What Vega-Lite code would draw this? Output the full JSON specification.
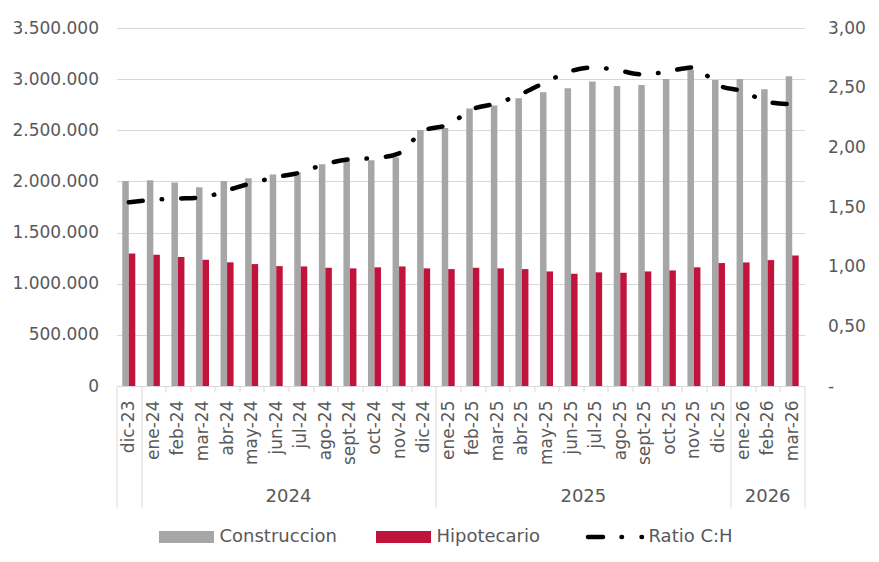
{
  "$schema": "https://vega.github.io/schema/vega-lite/v6.json",
  "width": 688,
  "height": 358,
  "autosize": {"type": "none"},
  "padding": {"left": 116.5, "top": 28, "right": 74.5, "bottom": 176},
  "background": "#ffffff",
  "config": {
    "locale": {"number": {"decimal": ",", "thousands": ".", "grouping": [3], "currency": ["", ""]}},
    "view": {"stroke": null},
    "font": "DejaVu Sans",
    "axis": {"labelFont": "DejaVu Sans", "labelColor": "#595959", "labelFontSize": 17}
  },
  "data": {
    "values": [
      {"mes": "dic-23", "Construccion": 2003000, "Hipotecario": 1296000, "ratio": 1.54},
      {"mes": "ene-24", "Construccion": 2012000, "Hipotecario": 1283000, "ratio": 1.56},
      {"mes": "feb-24", "Construccion": 1990000, "Hipotecario": 1260000, "ratio": 1.57},
      {"mes": "mar-24", "Construccion": 1944000, "Hipotecario": 1234000, "ratio": 1.58},
      {"mes": "abr-24", "Construccion": 2003000, "Hipotecario": 1209000, "ratio": 1.64},
      {"mes": "may-24", "Construccion": 2032000, "Hipotecario": 1192000, "ratio": 1.70},
      {"mes": "jun-24", "Construccion": 2068000, "Hipotecario": 1172000, "ratio": 1.75},
      {"mes": "jul-24", "Construccion": 2090000, "Hipotecario": 1169000, "ratio": 1.79},
      {"mes": "ago-24", "Construccion": 2169000, "Hipotecario": 1156000, "ratio": 1.86},
      {"mes": "sept-24", "Construccion": 2201000, "Hipotecario": 1150000, "ratio": 1.90},
      {"mes": "oct-24", "Construccion": 2208000, "Hipotecario": 1160000, "ratio": 1.91},
      {"mes": "nov-24", "Construccion": 2237000, "Hipotecario": 1169000, "ratio": 1.95},
      {"mes": "dic-24", "Construccion": 2504000, "Hipotecario": 1150000, "ratio": 2.14},
      {"mes": "ene-25", "Construccion": 2523000, "Hipotecario": 1143000, "ratio": 2.19},
      {"mes": "feb-25", "Construccion": 2713000, "Hipotecario": 1156000, "ratio": 2.32},
      {"mes": "mar-25", "Construccion": 2742000, "Hipotecario": 1150000, "ratio": 2.37},
      {"mes": "abr-25", "Construccion": 2813000, "Hipotecario": 1143000, "ratio": 2.45},
      {"mes": "may-25", "Construccion": 2872000, "Hipotecario": 1120000, "ratio": 2.55},
      {"mes": "jun-25", "Construccion": 2911000, "Hipotecario": 1097000, "ratio": 2.64},
      {"mes": "jul-25", "Construccion": 2976000, "Hipotecario": 1111000, "ratio": 2.67},
      {"mes": "ago-25", "Construccion": 2933000, "Hipotecario": 1107000, "ratio": 2.64},
      {"mes": "sept-25", "Construccion": 2943000, "Hipotecario": 1120000, "ratio": 2.61},
      {"mes": "oct-25", "Construccion": 3002000, "Hipotecario": 1130000, "ratio": 2.64},
      {"mes": "nov-25", "Construccion": 3094000, "Hipotecario": 1160000, "ratio": 2.67},
      {"mes": "dic-25", "Construccion": 2992000, "Hipotecario": 1202000, "ratio": 2.52},
      {"mes": "ene-26", "Construccion": 3002000, "Hipotecario": 1208000, "ratio": 2.47},
      {"mes": "feb-26", "Construccion": 2901000, "Hipotecario": 1231000, "ratio": 2.38},
      {"mes": "mar-26", "Construccion": 3028000, "Hipotecario": 1276000, "ratio": 2.36}
    ]
  },
  "layer": [
    {
      "transform": [{"fold": ["Construccion", "Hipotecario"], "as": ["serie", "valor"]}],
      "mark": {"type": "bar"},
      "encoding": {
        "x": {
          "field": "mes",
          "type": "nominal",
          "sort": null,
          "scale": {"paddingInner": 0, "paddingOuter": 0},
          "axis": {
            "title": null,
            "labelAngle": 270,
            "labelAlign": "right",
            "labelBaseline": "middle",
            "labelPadding": {"condition": {"test": "indexof(['dic-23','dic-24','dic-25','mar-26'], datum.value) >= 0", "value": -108}, "value": 8},
            "tickBand": "extent",
            "tickColor": "#D9D9D9",
            "tickSize": {"condition": {"test": "indexof(['dic-23','dic-24','dic-25','mar-26'], datum.value) >= 0 || !!datum.extra", "value": 122}, "value": 6},
            "domainColor": "#D9D9D9",
            "grid": false
          }
        },
        "xOffset": {"field": "serie", "type": "nominal", "sort": ["Construccion", "Hipotecario"], "scale": {"paddingInner": 0, "paddingOuter": 0.89}},
        "y": {
          "field": "valor",
          "type": "quantitative",
          "scale": {"domain": [0, 3500000], "nice": false},
          "axis": {
            "title": null,
            "values": [0, 500000, 1000000, 1500000, 2000000, 2500000, 3000000, 3500000],
            "format": ",d",
            "domain": false,
            "ticks": false,
            "labelPadding": 18,
            "grid": true,
            "gridColor": "#D9D9D9",
            "gridWidth": 1
          }
        },
        "color": {
          "field": "serie",
          "type": "nominal",
          "scale": {"domain": ["Construccion", "Hipotecario", "Ratio C:H"], "range": ["#A6A6A6", "#C0143C", "#000000"]},
          "legend": {
            "orient": "none",
            "legendX": 61,
            "legendY": 500,
            "direction": "horizontal",
            "title": null,
            "labelFontSize": 18,
            "labelColor": "#595959",
            "labelFont": "DejaVu Sans",
            "symbolSize": 3025,
            "labelOffset": 24,
            "columnPadding": 38,
            "encode": {
              "symbols": {
                "update": {
                  "shape": {"signal": "datum.value === 'Ratio C:H' ? 'M-1,0H1' : 'M-1,-0.218H1V0.218H-1Z'"},
                  "fill": {"signal": "datum.value === 'Construccion' ? '#A6A6A6' : datum.value === 'Hipotecario' ? '#C0143C' : 'transparent'"},
                  "stroke": {"signal": "datum.value === 'Ratio C:H' ? '#000000' : 'transparent'"},
                  "strokeWidth": {"signal": "datum.value === 'Ratio C:H' ? 4.5 : 0"},
                  "strokeDash": {"signal": "datum.value === 'Ratio C:H' ? [15, 18.5, 0.5, 19.5, 0.5, 40] : [1, 0]"},
                  "strokeCap": {"value": "round"},
                  "opacity": {"value": 1}
                }
              }
            }
          }
        }
      }
    },
    {
      "mark": {"type": "line", "interpolate": "monotone", "strokeWidth": 4.5, "strokeDash": [14, 19, 0.5, 19], "strokeCap": "round"},
      "encoding": {
        "x": {
          "field": "mes",
          "type": "nominal",
          "sort": null,
          "axis": {
            "orient": "bottom",
            "title": null,
            "values": ["jun-24", "jun-25", "feb-26"],
            "labelExpr": "datum.value === 'jun-24' ? '2024' : datum.value === 'jun-25' ? '2025' : '2026'",
            "labelOffset": {"condition": {"test": "datum.value === 'feb-26'", "value": 0}, "value": 12.3},
            "labelAngle": 0,
            "labelAlign": "center",
            "labelBaseline": "top",
            "labelPadding": 101,
            "labelFontSize": 18,
            "ticks": false,
            "domain": false,
            "grid": false
          }
        },
        "y": {
          "field": "ratio",
          "type": "quantitative",
          "scale": {"domain": [0, 3], "nice": false},
          "axis": {
            "orient": "right",
            "title": null,
            "values": [0, 0.5, 1, 1.5, 2, 2.5, 3],
            "labelExpr": "datum.value === 0 ? '-' : format(datum.value, '.2f')",
            "labelAlign": "left",
            "domain": false,
            "ticks": false,
            "grid": false,
            "labelPadding": 23
          }
        },
        "color": {"datum": "Ratio C:H"}
      }
    }
  ],
  "resolve": {"scale": {"y": "independent"}, "axis": {"x": "independent"}}
}
